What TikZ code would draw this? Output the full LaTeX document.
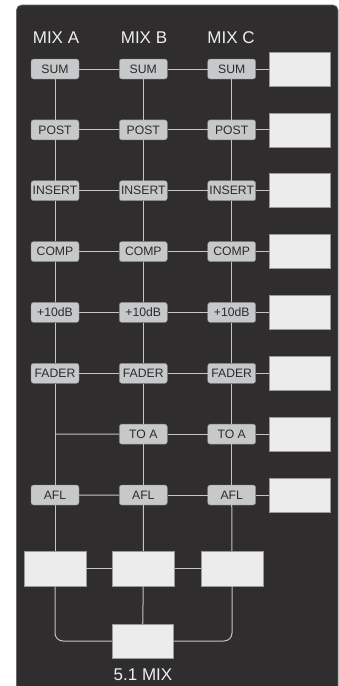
\documentclass[tikz,border=0pt]{standalone}
\usepackage{fontspec}
\setmainfont{Liberation Sans}
\definecolor{bgc}{HTML}{2F2D2E}
\definecolor{bgedge}{HTML}{6A6A6A}
\definecolor{boxfill}{HTML}{C7C8C9}
\definecolor{boxdraw}{HTML}{858585}
\definecolor{wfill}{HTML}{ECECEC}
\definecolor{wdraw}{HTML}{9A9A9A}
\definecolor{linkc}{HTML}{C4C4C4}
\definecolor{lblc}{HTML}{EEEEEE}
\definecolor{btext}{HTML}{2B2B2B}
\begin{document}
\begin{tikzpicture}[x=1pt,y=-1pt,
  sbox/.style={draw=boxdraw, fill=boxfill, rounded corners=2.5pt, minimum width=48pt, minimum height=20pt, inner sep=0pt, font=\fontsize{12.2}{13}\selectfont, text=btext},
  wbox/.style={draw=wdraw, fill=wfill, line width=0.5pt, minimum width=61pt, minimum height=34pt, inner sep=0pt},
  bbox/.style={draw=wdraw, fill=wfill, line width=0.5pt, minimum width=62pt, minimum height=35pt, inner sep=0pt},
  link/.style={draw=linkc, line width=1pt},
  mixlbl/.style={text=lblc, font=\fontsize{17}{19}\selectfont, inner sep=0pt}]
\useasboundingbox (0,0) rectangle (339,686);
\fill[white] (0,0) rectangle (339,686);
\clip (0,0) rectangle (339,686);
\path[fill=bgc, draw=bgedge, line width=0.6pt, rounded corners=5pt] (16.5,5) rectangle (338,700);
% column headers
\node[mixlbl] (hA) at (56,38) {MIX A};
\node[mixlbl] (hB) at (144,38) {MIX B};
\node[mixlbl] (hC) at (231,38) {MIX C};
% rows for columns B, C and right boxes
\foreach \t [count=\i] in {SUM,POST,INSERT,COMP,+10dB,FADER,TO A,AFL} {
  \pgfmathsetmacro\yy{69+60.86*(\i-1)}
  \node[sbox] (b\i) at (143.3,\yy) {\t};
  \node[sbox] (c\i) at (231.7,\yy) {\t};
  \node[wbox] (r\i) at (299.5,\yy) {};
}
% column A
\foreach \t [count=\i] in {SUM,POST,INSERT,COMP,+10dB,FADER} {
  \pgfmathsetmacro\yy{69+60.86*(\i-1)}
  \node[sbox] (a\i) at (55,\yy) {\t};
}
\coordinate (a7) at (55,434.0);
\node[sbox] (a8) at (55,495.0) {AFL};
% bottom boxes
\node[bbox] (xA) at (55,568.5) {};
\node[bbox] (xB) at (143.5,568.5) {};
\node[bbox] (xC) at (232,568.5) {};
\node[bbox, minimum width=61pt, minimum height=34pt] (mix) at (142.5,641) {};
\node[mixlbl] (mixl) at (143,675) {5.1 MIX};
% horizontal links
\foreach \i in {1,...,6,8} {
  \draw[link] (a\i) -- (b\i);
}
\draw[link] (a7) -- (b7);
\foreach \i in {1,...,8} {
  \draw[link] (b\i) -- (c\i);
  \draw[link] (c\i) -- (r\i);
}
% vertical links
\foreach \i [evaluate=\i as \j using int(\i+1)] in {1,...,5} {
  \draw[link] (a\i) -- (a\j);
}
\draw[link] (a6) -- (a8);
\foreach \i [evaluate=\i as \j using int(\i+1)] in {1,...,7} {
  \draw[link] (b\i) -- (b\j);
  \draw[link] (c\i) -- (c\j);
}
\draw[link] (a8) -- (xA);
\draw[link] (b8) -- (xB);
\draw[link] (c8) -- (xC);
% bottom links
\draw[link] (xA) -- (xB);
\draw[link] (xB) -- (xC);
\draw[link] (xB) -- (mix);
\draw[link, rounded corners=8pt] (xA.south) |- (mix.west);
\draw[link, rounded corners=8pt] (xC.south) |- (mix.east);
\end{tikzpicture}
\end{document}
